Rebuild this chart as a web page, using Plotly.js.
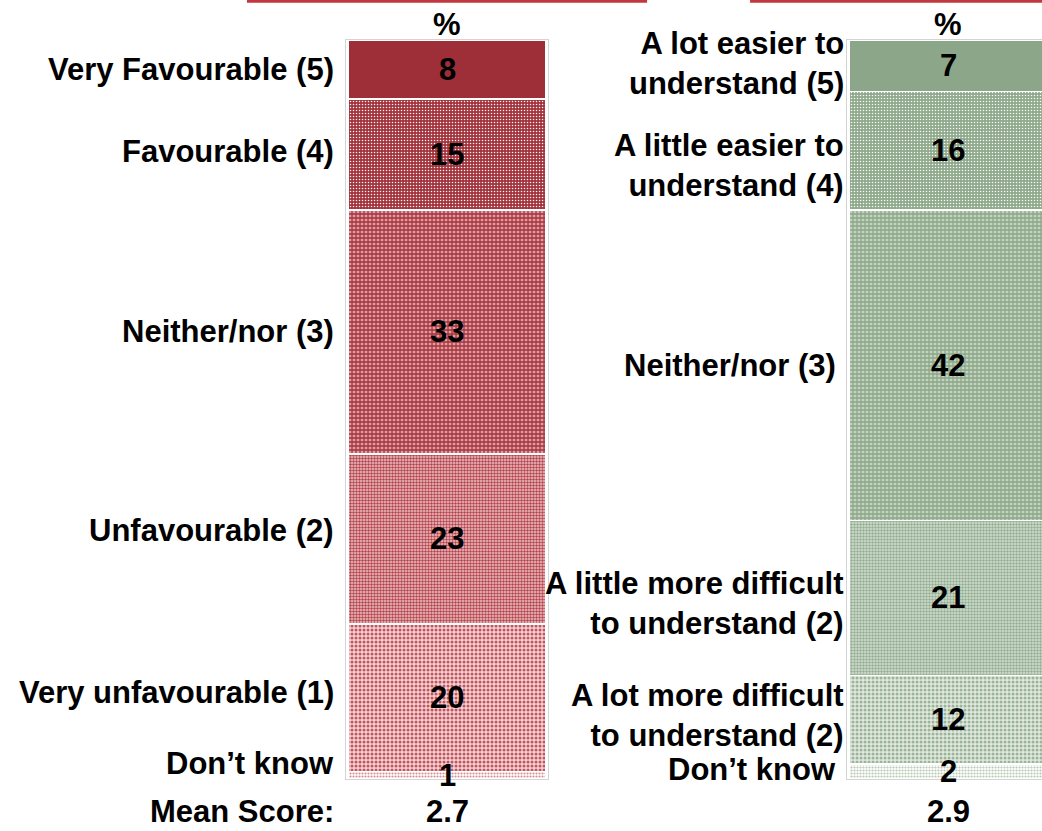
<!DOCTYPE html>
<html>
<head>
<meta charset="utf-8">
<script src="https://cdn.plot.ly/plotly-3.0.1.min.js"></script>
<style>html,body{margin:0;padding:0;background:#fff;}#chart{width:1042px;height:831px;}</style>
</head>
<body>
<div id="chart"></div>
<script>
// ---- data (top segment first) ----
const leftCategories = ["Very Favourable (5)", "Favourable (4)", "Neither/nor (3)", "Unfavourable (2)", "Very unfavourable (1)", "Don’t know"];
const leftValues = [8, 15, 33, 23, 20, 1];
const rightCategories = ["A lot easier to<br>understand (5)", "A little easier to<br>understand (4)", "Neither/nor (3) ", "A little more difficult<br>to understand (2)", "A lot more difficult<br>to understand (2)", "Don’t know "];
const rightValues = [7, 16, 42, 21, 12, 2];
const meanScores = ["2.7", "2.9"];
const headerText = "%";
const meanLabel = "Mean Score:";

// ---- styles ----
const FONT = "Arial";
const FS = 31;
// small pixel nudges of the category labels (style only)
const leftLabelNudge = [0, 3, 0, 8, 5, 12];
const rightLabelNudge = [2, -15, 0, -6, 4, 2];
const redStyles = [
  {bg: "#9E2F38"},
  {bg: "#A2323B", fg: "#ffffff", shape: ".", sol: 0.2, size: 3},
  {bg: "#DDA0A5", fg: "#A8323B", shape: "+", sol: 0.55, size: 4},
  {bg: "#EDC6C9", fg: "#B33E48", shape: ".", sol: 0.5, size: 3},
  {bg: "#F3D6D8", fg: "#C4505A", shape: ".", sol: 0.45, size: 4},
  {bg: "#FFFFFF", fg: "#D88A90", shape: ".", sol: 0.4, size: 3}
];
const greenStyles = [
  {bg: "#8BA688"},
  {bg: "#8EA98B", fg: "#ffffff", shape: ".", sol: 0.2, size: 3},
  {bg: "#C3D3C1", fg: "#8BA688", shape: "+", sol: 0.55, size: 4},
  {bg: "#D5E0D3", fg: "#93AD90", shape: ".", sol: 0.5, size: 3},
  {bg: "#E1E9E0", fg: "#9BB398", shape: ".", sol: 0.45, size: 4},
  {bg: "#FFFFFF", fg: "#B5C7B2", shape: ".", sol: 0.4, size: 3}
];

function buildTraces(values, styles, xa, ya) {
  const traces = [];
  for (let i = values.length - 1; i >= 0; i--) {
    const s = styles[i];
    const marker = {color: s.bg, line: {color: "#ffffff", width: 1.5}};
    if (s.shape) {
      marker.pattern = {shape: s.shape, bgcolor: s.bg, fgcolor: s.fg, size: s.size, solidity: s.sol, fillmode: "replace"};
    }
    traces.push({
      type: "bar", x: [0], y: [values[i]], width: 0.98,
      xaxis: xa, yaxis: ya,
      marker: marker, hoverinfo: "skip", showlegend: false
    });
  }
  return traces;
}

function centers(values) {
  const out = []; let top = 100;
  for (const v of values) { out.push(top - v / 2); top -= v; }
  return out;
}

const annFont = {family: FONT, size: FS, color: "#000", weight: 700};

function labelAnns(cats, values, nudges, xref, yref, xshift) {
  const c = centers(values);
  return cats.map((t, i) => ({
    text: t, xref: xref + " domain", yref: yref, x: 0, y: c[i],
    xanchor: "right", yanchor: "middle", align: "right", xshift: xshift, yshift: nudges[i],
    showarrow: false, font: annFont
  }));
}

function valueAnns(values, xref, yref) {
  const c = centers(values);
  return values.map((v, i) => ({
    text: String(v), xref: xref, yref: yref, x: 0, y: c[i],
    xanchor: "center", yanchor: "middle", showarrow: false, font: annFont
  }));
}

const data = buildTraces(leftValues, redStyles, "x", "y").concat(buildTraces(rightValues, greenStyles, "x2", "y2"));

const annotations = []
  .concat(labelAnns(leftCategories, leftValues, leftLabelNudge, "x", "y", -10))
  .concat(labelAnns(rightCategories, rightValues, rightLabelNudge, "x2", "y2", -1))
  .concat(valueAnns(leftValues, "x", "y"))
  .concat(valueAnns(rightValues, "x2", "y2"))
  .concat([
    {text: headerText, xref: "x", yref: "paper", x: 0, y: 1, xanchor: "center", yanchor: "bottom", yshift: -4, showarrow: false, font: annFont},
    {text: headerText, xref: "x2", yref: "paper", x: 0, y: 1, xanchor: "center", yanchor: "bottom", yshift: -4, showarrow: false, font: annFont},
    {text: meanLabel, xref: "x domain", yref: "paper", x: 0, y: 0, xanchor: "right", yanchor: "middle", xshift: -10, yshift: -32, showarrow: false, font: annFont},
    {text: meanScores[0], xref: "x", yref: "paper", x: 0, y: 0, xanchor: "center", yanchor: "middle", yshift: -32, showarrow: false, font: annFont},
    {text: meanScores[1], xref: "x2", yref: "paper", x: 0, y: 0, xanchor: "center", yanchor: "middle", yshift: -32, showarrow: false, font: annFont}
  ]);

const axisCommon = {showgrid: false, zeroline: false, showticklabels: false, ticks: "", fixedrange: true, showline: true, linecolor: "#d4d4d4", linewidth: 1};

const layout = {
  width: 1042, height: 831,
  margin: {l: 0, r: 0, t: 40, b: 52},
  paper_bgcolor: "#ffffff", plot_bgcolor: "#ffffff",
  barmode: "stack", showlegend: false,
  xaxis: Object.assign({}, axisCommon, {domain: [0.3321, 0.5259], range: [-0.5, 0.5], anchor: "y", mirror: true}),
  yaxis: Object.assign({}, axisCommon, {domain: [0, 1], range: [0, 100], anchor: "x", mirror: true}),
  xaxis2: Object.assign({}, axisCommon, {domain: [0.8129, 1], range: [-0.5, 0.465], anchor: "y2", mirror: true}),
  yaxis2: Object.assign({}, axisCommon, {domain: [0, 1], range: [0, 100], anchor: "x2", mirror: false}),
  annotations: annotations,
  shapes: [
    {type: "line", xref: "paper", yref: "paper", x0: 0.237, x1: 0.621, y0: 1.0525, y1: 1.0525, line: {color: "#C0393F", width: 3}},
    {type: "line", xref: "paper", yref: "paper", x0: 0.7198, x1: 1, y0: 1.0525, y1: 1.0525, line: {color: "#C0393F", width: 3}}
  ],
  font: {family: FONT}
};

Plotly.newPlot("chart", data, layout, {displayModeBar: false, staticPlot: true});
</script>
</body>
</html>
